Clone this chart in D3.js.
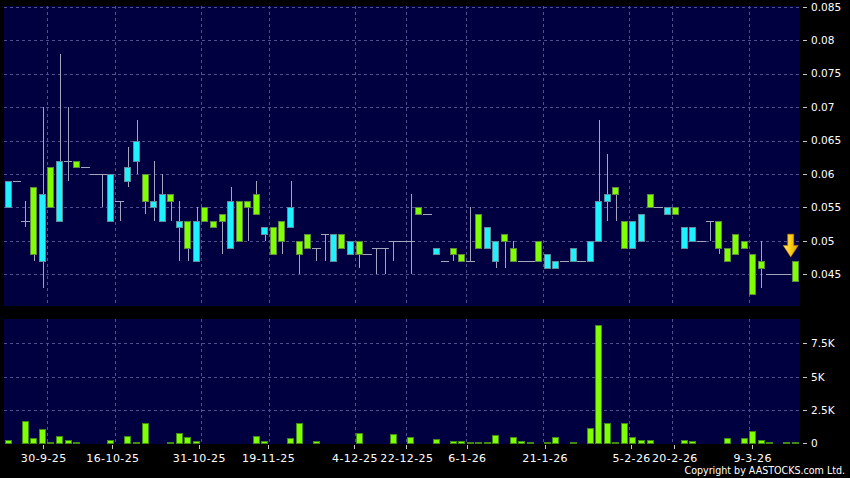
<!DOCTYPE html>
<html><head><meta charset="utf-8">
<script src="https://cdn.jsdelivr.net/npm/d3@7"></script>
<style>html,body{margin:0;padding:0;background:#000;}svg{display:block}</style>
</head><body>
<svg id="c" width="850" height="478"></svg>
<script>
// ---- data ----
const openP  = [.055,.059,.053,.058,.047,.061,.053,.062,.062,.061,.060,.060,.053,.056,.059,.062,.060,.055,.053,.057,
                .052,.053,.047,.055,.053,.054,.049,.056,.056,.057,.051,.052,.053,.052,.050,.051,.049,.051,.047,.051,
                .048,.050,.048,.049,.049,.050,.050,.050,.055,.054,.048,.047,.049,.048,.047,.054,.049,.047,.051,.049,
                .047,.047,.050,.046,.046,.047,.047,.047,.047,.050,.056,.058,.053,.049,.050,.057,.055,.054,.055,.049,
                .050,.050,.053,.053,.049,.051,.050,.048,.047,.045,.045,.045,.047];
const highP  = [.059,.059,.056,.058,.070,.061,.078,.070,.062,.061,.060,.060,.060,.056,.064,.068,.060,.062,.060,.057,
                .056,.053,.055,.055,.053,.054,.058,.056,.056,.059,.052,.052,.053,.059,.050,.051,.049,.051,.051,.051,
                .050,.050,.048,.049,.049,.050,.050,.057,.055,.054,.049,.047,.049,.048,.055,.054,.052,.050,.051,.050,
                .047,.047,.050,.048,.047,.047,.049,.047,.050,.068,.063,.058,.053,.053,.054,.057,.055,.055,.055,.052,
                .052,.050,.053,.053,.049,.051,.050,.048,.050,.045,.045,.045,.047];
const lowP   = [.055,.059,.052,.047,.043,.055,.053,.059,.061,.061,.060,.055,.053,.053,.058,.060,.054,.053,.053,.053,
                .047,.047,.047,.053,.052,.048,.049,.050,.050,.054,.050,.048,.048,.052,.045,.049,.047,.047,.047,.049,
                .048,.046,.048,.045,.045,.047,.050,.045,.054,.054,.048,.047,.047,.047,.047,.049,.049,.046,.046,.047,
                .047,.047,.047,.046,.046,.047,.047,.047,.047,.050,.053,.053,.049,.049,.050,.055,.055,.054,.054,.049,
                .050,.050,.050,.048,.047,.048,.049,.042,.043,.045,.045,.045,.044];
const closeP = [.059,.059,.053,.048,.057,.055,.062,.062,.061,.061,.060,.060,.060,.056,.061,.065,.056,.056,.057,.056,
                .053,.049,.053,.053,.052,.053,.056,.050,.055,.054,.052,.048,.050,.055,.048,.049,.049,.051,.051,.049,
                .050,.048,.048,.049,.049,.050,.050,.050,.054,.054,.049,.047,.048,.047,.047,.049,.052,.050,.050,.047,
                .047,.047,.047,.048,.047,.047,.049,.047,.050,.056,.057,.057,.049,.053,.054,.055,.055,.055,.054,.052,
                .052,.050,.053,.049,.047,.048,.049,.042,.046,.045,.045,.045,.044];
const volume = [250,20,1700,375,1050,125,525,225,100,10,10,50,225,10,550,75,1525,20,20,75,
                775,450,175,20,20,30,20,20,20,550,150,20,20,375,1500,50,175,10,20,20,
                20,775,10,50,50,700,10,450,20,10,325,10,150,175,100,100,100,650,20,475,
                150,100,20,75,475,10,100,10,1125,8875,1550,75,1500,450,250,250,10,50,30,225,
                150,25,25,20,400,20,375,900,225,100,10,100,75];
const dateLabels = ["30-9-25","16-10-25","31-10-25","19-11-25","4-12-25","22-12-25","6-1-26","21-1-26","5-2-26","20-2-26","9-3-26"];
const dateLabelIndex = [5,13,23,31,41,47,54,63,73,78,87];
const priceTicks = [0.045,0.05,0.055,0.06,0.065,0.07,0.075,0.08,0.085];
const volumeTicks = [0,2500,5000,7500];
const volumeTickLabels = ["0","2.5K","5K","7.5K"];

// ---- layout ----
const N = openP.length;
const L = 4, R = 800, pTop = 6, pBot = 306, vTop = 319, vBot = 444;
const NAVY = "#000040", GRID = "#50508f", CYAN = "#1ff2ff", GREEN = "#7fff00";
const svg = d3.select("#c");
svg.append("rect").attr("width",850).attr("height",478).attr("fill","#000");

const x = d3.scaleBand().domain(d3.range(N)).range([L,R]).padding(0);
const bw = x.bandwidth();
const xt = d3.scaleLinear().domain([0,N]).range([0,804]);
const y = d3.scaleLinear().domain([0.045,0.085]).range([274.3,6.7]);
const yv = d3.scaleLinear().domain([0,7500]).range([443.3,343.3]);

svg.append("rect").attr("x",L).attr("y",pTop).attr("width",R-L).attr("height",pBot-pTop).attr("fill",NAVY);
svg.append("rect").attr("x",L).attr("y",vTop).attr("width",R-L).attr("height",vBot-vTop).attr("fill",NAVY);

const defs = svg.append("defs");
defs.append("clipPath").attr("id","cp").append("rect").attr("x",L).attr("y",pTop).attr("width",R-L).attr("height",pBot-pTop);
defs.append("clipPath").attr("id","cv").append("rect").attr("x",L).attr("y",vTop).attr("width",R-L).attr("height",vBot-vTop);
const g1 = defs.append("linearGradient").attr("id","arr").attr("x1","0").attr("x2","1").attr("y1","0").attr("y2","0");
g1.append("stop").attr("offset","0").attr("stop-color","#ffe680");
g1.append("stop").attr("offset","0.45").attr("stop-color","#ffd21a");
g1.append("stop").attr("offset","1").attr("stop-color","#e09a00");

const px = v => Math.round(v) + 0.5;

// grid
const grid = svg.append("g").attr("stroke",GRID).attr("stroke-dasharray","3,3").attr("stroke-width",1);
grid.selectAll(".hp").data(priceTicks).join("line")
  .attr("x1",L).attr("x2",R).attr("y1",d=>px(y(d))).attr("y2",d=>px(y(d)));
grid.selectAll(".hv").data(volumeTicks.slice(1)).join("line").attr("class","hv")
  .attr("x1",L).attr("x2",R).attr("y1",d=>px(yv(d))).attr("y2",d=>px(yv(d)));
grid.selectAll(".vp").data(dateLabelIndex).join("line").attr("class","vp")
  .attr("x1",d=>px(x(d))).attr("x2",d=>px(x(d))).attr("y1",pTop).attr("y2",pBot);
grid.selectAll(".vv").data(dateLabelIndex).join("line").attr("class","vv")
  .attr("x1",d=>px(x(d))).attr("x2",d=>px(x(d))).attr("y1",vTop).attr("y2",vBot);

// candles
const cg = svg.append("g").attr("clip-path","url(#cp)");
const idx = d3.range(N);
const cx = i => px(x(i) + bw/2);
cg.selectAll(".wick").data(idx.filter(i=>highP[i]>lowP[i])).join("line")
  .attr("x1",cx).attr("x2",cx).attr("y1",i=>Math.round(y(highP[i]))).attr("y2",i=>Math.round(y(lowP[i])))
  .attr("stroke","#a4a4bc").attr("stroke-width",1);
cg.selectAll(".flat").data(idx.filter(i=>openP[i]===closeP[i])).join("line")
  .attr("x1",i=>Math.round(x(i))).attr("x2",i=>Math.round(x(i)+bw))
  .attr("y1",i=>px(y(openP[i]))).attr("y2",i=>px(y(openP[i])))
  .attr("stroke","#a4a4bc").attr("stroke-width",1);
cg.selectAll(".body").data(idx.filter(i=>openP[i]!==closeP[i])).join("rect")
  .attr("x",i=>px(x(i)+0.6)).attr("width",6)
  .attr("y",i=>px(y(Math.max(openP[i],closeP[i]))))
  .attr("height",i=>Math.round(y(Math.min(openP[i],closeP[i])))-Math.round(y(Math.max(openP[i],closeP[i]))))
  .attr("fill",i=>closeP[i]>openP[i]?CYAN:GREEN)
  .attr("stroke",i=>closeP[i]>openP[i]?"#5f8c9c":"#5e8a3e").attr("stroke-width",1);

// arrow above last candle
const last = N-1;
const ax = x(last)+bw/2-5, tip = y(highP[last])-4;
svg.append("path")
  .attr("d",`M${ax-3},${tip-22.7}L${ax+3},${tip-22.7}L${ax+3},${tip-11.5}L${ax+7.5},${tip-11.5}L${ax},${tip}L${ax-7.5},${tip-11.5}L${ax-3},${tip-11.5}Z`)
  .attr("fill","url(#arr)").attr("stroke","#c88a00").attr("stroke-width",0.6);

// volume bars
const vg = svg.append("g").attr("clip-path","url(#cv)");
vg.selectAll("rect").data(idx).join("rect")
  .attr("x",i=>px(x(i)+0.6)).attr("width",6)
  .attr("y",i=>Math.round(yv(volume[i]))+0.5)
  .attr("height",i=>Math.max(0,Math.round(yv(0))-Math.round(yv(volume[i]))))
  .attr("fill",GREEN).attr("stroke","#3f8a10").attr("stroke-width",1);

// axes
const FONT = "DejaVu Sans, Verdana, sans-serif";
const ya = d3.axisRight(y).tickValues(priceTicks).tickFormat(d3.format(".3~f")).tickSize(4).tickPadding(4);
const yaG = svg.append("g").attr("transform","translate(803,0)").call(ya);
const va = d3.axisRight(yv).tickValues(volumeTicks).tickFormat((d,i)=>volumeTickLabels[i]).tickSize(4).tickPadding(4);
const vaG = svg.append("g").attr("transform","translate(803,0)").call(va);
const xa = d3.axisBottom(xt).tickValues(dateLabelIndex).tickFormat((d,i)=>dateLabels[i]).tickSize(4).tickPadding(5);
const xaG = svg.append("g").attr("transform","translate(0,445)").call(xa);
[yaG,vaG,xaG].forEach(g=>{
  g.select(".domain").remove();
  g.selectAll(".tick line").attr("stroke","#c8c8c8");
  g.selectAll("text").attr("fill","#ffffff").attr("font-family",FONT);
});
yaG.selectAll("text").attr("font-size",10.5);
vaG.selectAll("text").attr("font-size",10.5);
xaG.selectAll("text").attr("font-size",11).attr("letter-spacing","0.4px");
svg.selectAll(".tick line").attr("shape-rendering","crispEdges");

svg.append("text").attr("x",845).attr("y",474).attr("text-anchor","end")
  .attr("fill","#fff").attr("font-family","DejaVu Sans Condensed, DejaVu Sans, sans-serif").attr("font-size",10.6)
  .text("Copyright by AASTOCKS.com Ltd.");
</script>
</body></html>
